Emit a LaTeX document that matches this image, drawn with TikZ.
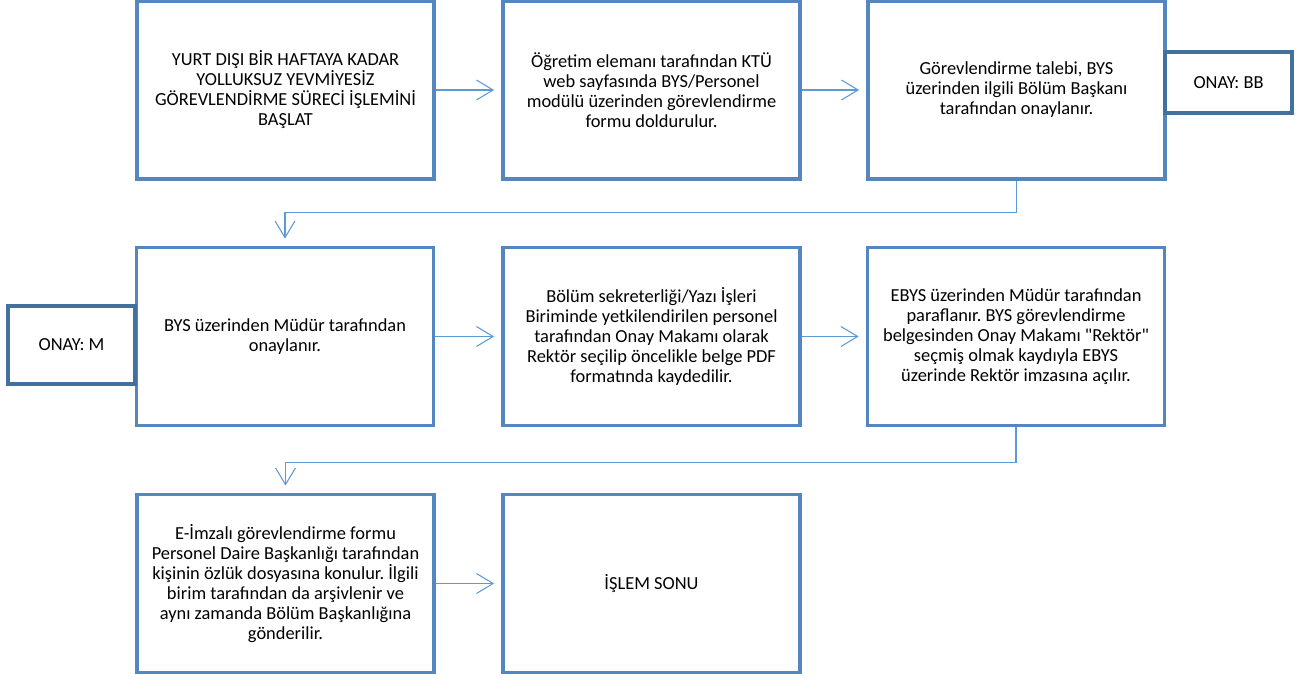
\documentclass[tikz,border=0pt]{standalone}
\usepackage{fontspec}
\setmainfont{Carlito}
\usetikzlibrary{arrows.meta}
\definecolor{boxblue}{RGB}{84,134,192}
\definecolor{onayblue}{RGB}{66,113,158}
\definecolor{arrowblue}{RGB}{91,155,213}
\tikzset{
  stepbox/.style={draw=boxblue, line width=2.3pt, fill=white, minimum width=222.75pt, minimum height=133.5pt, align=center, inner sep=0pt, font=\fontsize{13.8}{15}\selectfont},
  onaybox/.style={draw=onayblue, line width=2.3pt, fill=white, align=center, inner sep=0pt, font=\fontsize{13.8}{15}\selectfont},
  conn/.style={draw=arrowblue, line width=0.8pt, -{Straight Barb[length=12.5pt, width=15pt, line width=0.8pt]}, shorten >=5.5pt}
}
\begin{document}
\frenchspacing
\begin{tikzpicture}[x=0.75pt, y=-0.75pt]
\useasboundingbox (0,0) rectangle (1301,678);
% row 1
\node[stepbox] (A) at (285.5,90) {YURT DIŞI BİR HAFTAYA KADAR\\YOLLUKSUZ YEVMİYESİZ\\GÖREVLENDİRME SÜRECİ İŞLEMİNİ\\BAŞLAT};
\node[stepbox] (B) at (651.5,90) {Öğretim elemanı tarafından KTÜ\\web sayfasında BYS/Personel\\modülü üzerinden görevlendirme\\formu doldurulur.};
\node[stepbox] (C) at (1016.5,90) {Görevlendirme talebi, BYS\\üzerinden ilgili Bölüm Başkanı\\tarafından onaylanır.};
\node[onaybox, minimum width=95.25pt, minimum height=45.75pt] (BB) at (1228.5,82.5) {ONAY: BB};
% row 2
\node[stepbox] (D) at (285,336.5) {BYS üzerinden Müdür tarafından\\onaylanır.};
\node[onaybox, minimum width=95.25pt, minimum height=58.5pt] (M) at (71.5,345) {ONAY: M};
\node[stepbox] (E) at (651.5,336.5) {Bölüm sekreterliği/Yazı İşleri\\Biriminde yetkilendirilen personel\\tarafından Onay Makamı olarak\\Rektör seçilip öncelikle belge PDF\\formatında kaydedilir.};
\node[stepbox] (F) at (1016,336.5) {EBYS üzerinden Müdür tarafından\\paraflanır. BYS görevlendirme\\belgesinden Onay Makamı \textquotedbl Rektör\textquotedbl\\seçmiş olmak kaydıyla EBYS\\üzerinde Rektör imzasına açılır.};
% row 3
\node[stepbox] (G) at (285.5,583.5) {E-İmzalı görevlendirme formu\\Personel Daire Başkanlığı tarafından\\kişinin özlük dosyasına konulur. İlgili\\birim tarafından da arşivlenir ve\\aynı zamanda Bölüm Başkanlığına\\gönderilir.};
\node[stepbox] (H) at (651.5,583.5) {İŞLEM SONU};
% connectors
\draw[conn] (A) -- (B);
\draw[conn] (B) -- (C);
\draw[conn] (C.south) -- ++(0,32) -| (D.north);
\draw[conn] (D) -- (E);
\draw[conn] (E) -- (F);
\draw[conn] (F.south) -- ++(0,35) -| (G.north);
\draw[conn] (G) -- (H);
\end{tikzpicture}
\end{document}
